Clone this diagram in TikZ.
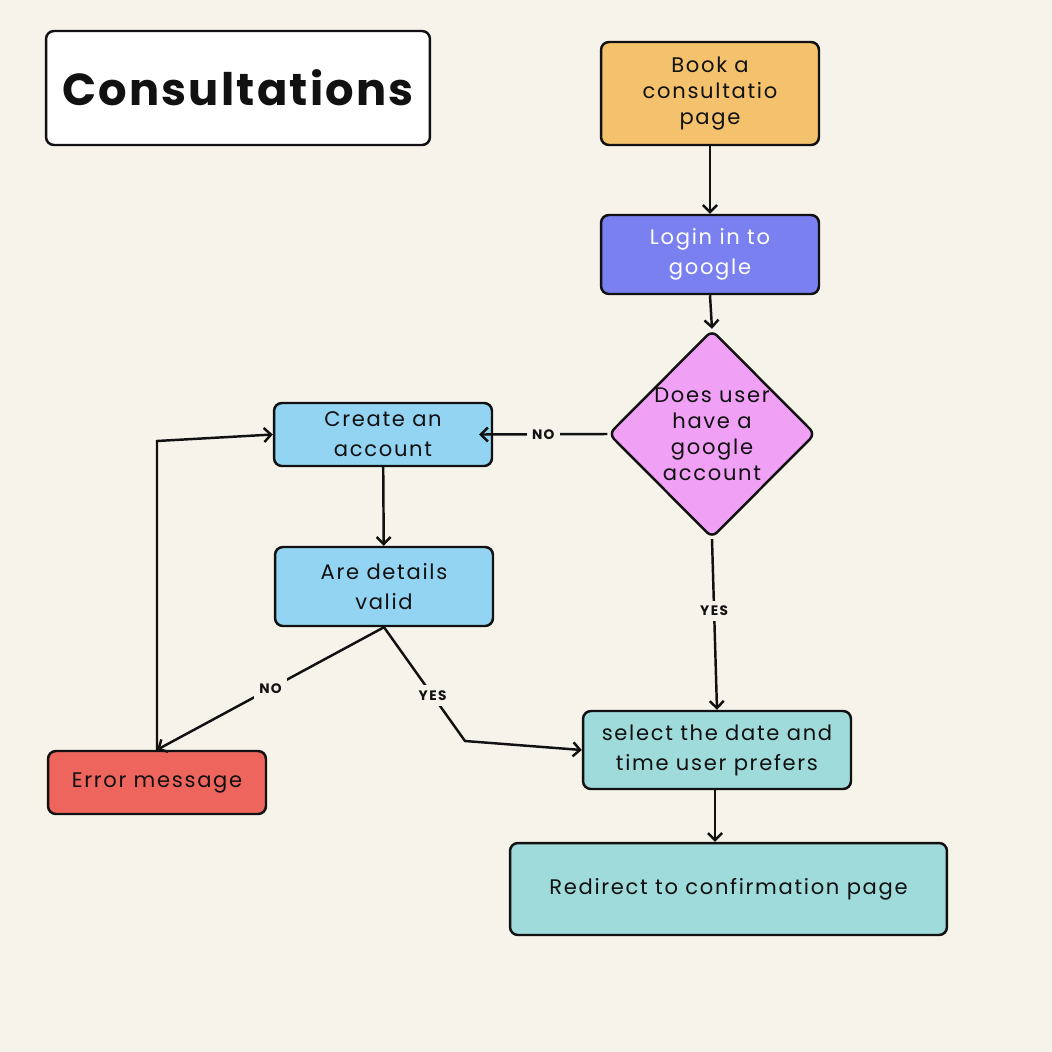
\documentclass[tikz,border=0pt]{standalone}
\usepackage{fontspec}
\setmainfont{Poppins}[LetterSpace=8]
\newfontfamily\lblfont{Poppins}[LetterSpace=10,BoldFont={Poppins Bold}]
\newfontfamily\ttlfont{Poppins Bold}[LetterSpace=5]
\usetikzlibrary{arrows.meta,shapes.geometric}
\definecolor{bgc}{HTML}{F6F3EB}
\definecolor{orng}{HTML}{F4C26C}
\definecolor{lgn}{HTML}{7A80F0}
\definecolor{pnk}{HTML}{F0A0F5}
\definecolor{blu}{HTML}{94D4F3}
\definecolor{rd}{HTML}{EE655E}
\definecolor{tl}{HTML}{A0DBDB}
\definecolor{ink}{HTML}{111111}
\tikzset{
  box/.style={draw=ink,line width=1.4pt,rounded corners=4.5pt,align=center,
    font=\fontsize{12}{17}\selectfont,text=ink,inner sep=0pt},
  dia/.style={draw=ink,line width=1.4pt,rounded corners=4pt,shape=diamond,
    fill=pnk,inner sep=0pt},
  arr/.style={draw=ink,line width=1.4pt,-{Straight Barb[length=4pt,width=8pt,line width=1.4pt]}},
  lbl/.style={fill=bgc,font=\lblfont\bfseries\fontsize{7.8}{9}\selectfont,text=ink,inner sep=3pt}
}
\begin{document}
\begin{tikzpicture}[x=0.02cm,y=-0.02cm]
\fill[bgc] (0,0) rectangle (1052,1052);
\useasboundingbox (0,0) rectangle (1052,1052);
\node[box,fill=white,minimum width=7.68cm,minimum height=2.28cm,font=\ttlfont\fontsize{25.5}{28}\selectfont] (title) at (238,88) {Consultations};
\node[box,fill=orng,minimum width=4.36cm,minimum height=2.06cm,font=\fontsize{12}{14.8}\selectfont] (book) at (710,93.5) {Book a\\consultatio\\page};
\node[box,fill=lgn,text=white,minimum width=4.36cm,minimum height=1.58cm] (login) at (710,254.5) {Login in to\\google};
\node[dia,minimum width=4.14cm,minimum height=4.16cm] (d) at (712,434) {};
\node[align=center,font=\fontsize{12}{14.8}\selectfont,text=ink] (dtext) at (712,434) {Does user\\have a\\google\\account};
\node[box,fill=blu,minimum width=4.36cm,minimum height=1.26cm] (create) at (383,434.5) {Create an\\account};
\node[box,fill=blu,minimum width=4.36cm,minimum height=1.58cm] (valid) at (384,586.5) {Are details\\valid};
\node[box,fill=rd,minimum width=4.36cm,minimum height=1.26cm] (error) at (157,782.5) {Error message};
\node[box,fill=tl,minimum width=5.36cm,minimum height=1.56cm] (select) at (717,750) {select the date and\\time user prefers};
\node[box,fill=tl,minimum width=8.74cm,minimum height=1.84cm] (redirect) at (728.5,889) {Redirect to confirmation page};
\coordinate (c1) at (465,741);
\coordinate (c2) at (157,441);
\coordinate (s1) at (715,789);
\draw[arr] (book) -- (login);
\draw[arr] (login.south) -- (d.north);
\draw[arr] (d.west) -- node[lbl]{NO} ([xshift=-8pt]create.east);
\draw[arr] (d.south) -- node[lbl,pos=0.42]{YES} (select.north);
\draw[arr] (create) -- (valid);
\draw[arr] (valid.south) -- node[lbl]{NO} (error.north);
\draw[arr] (valid.south) -- node[lbl,pos=0.6]{YES} (c1) -- (select.west);
\draw[arr] (error.north) -- (c2) -- (create.west);
\draw[arr] (s1) -- (s1 |- redirect.north);
\end{tikzpicture}
\end{document}
